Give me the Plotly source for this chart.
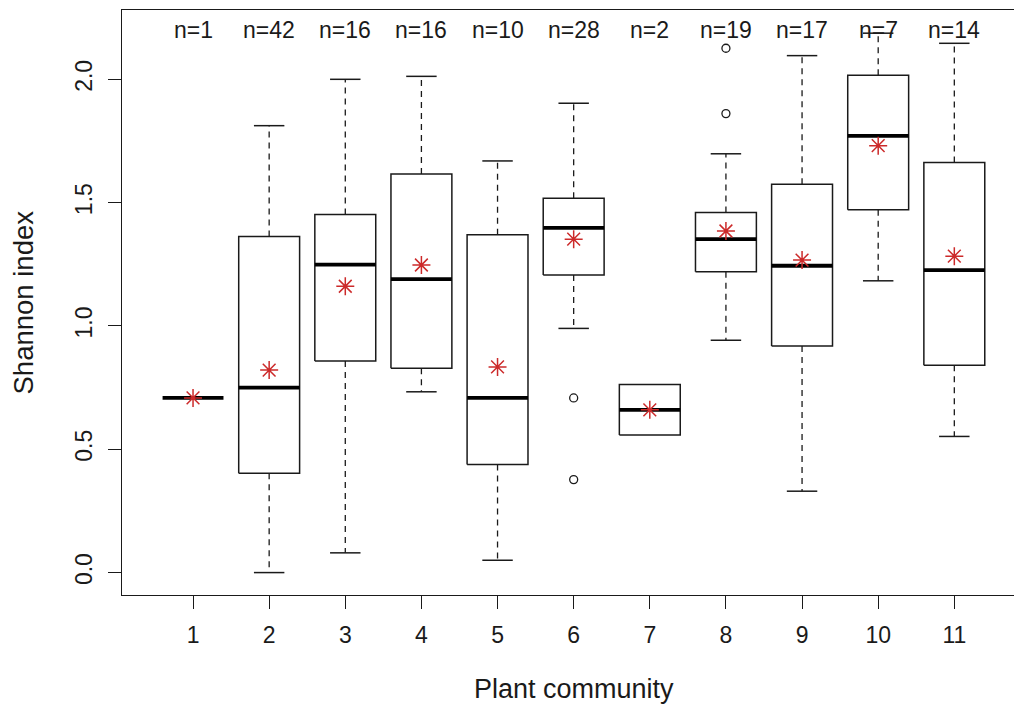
import plotly.graph_objects as go

groups = [1, 2, 3, 4, 5, 6, 7, 8, 9, 10, 11]
n_obs = [1, 42, 16, 16, 10, 28, 2, 19, 17, 7, 14]
q1 = [0.708, 0.403, 0.858, 0.828, 0.438, 1.207, 0.558, 1.220, 0.919, 1.471, 0.841]
median = [0.708, 0.750, 1.249, 1.190, 0.708, 1.398, 0.660, 1.352, 1.244, 1.771, 1.226]
q3 = [0.708, 1.363, 1.452, 1.616, 1.370, 1.518, 0.763, 1.460, 1.574, 2.016, 1.663]
lower = [None, 0.000, 0.080, 0.733, 0.050, 0.990, None, 0.942, 0.330, 1.183, 0.552]
upper = [None, 1.812, 2.000, 2.012, 1.669, 1.903, None, 1.698, 2.096, 2.187, 2.146]
means = [0.708, 0.821, 1.161, 1.247, 0.834, 1.352, 0.660, 1.385, 1.267, 1.731, 1.283]
outlier_x = [6, 6, 8, 8]
outlier_y = [0.708, 0.377, 1.861, 2.126]

y_ticks = [0.0, 0.5, 1.0, 1.5, 2.0]
y_ticktext = ["0.0", "0.5", "1.0", "1.5", "2.0"]

half_box = 0.4
half_cap = 0.2
FONT = "Liberation Sans, Arial, sans-serif"
INK = "#1a1a1a"

box_x, box_y = [], []
med_x, med_y = [], []
wh_x, wh_y = [], []
cap_x, cap_y = [], []
for g, a, m, b, lo, hi, n in zip(groups, q1, median, q3, lower, upper, n_obs):
    if n > 1:
        box_x += [g - half_box, g + half_box, g + half_box, g - half_box, g - half_box, None]
        box_y += [a, a, b, b, a, None]
    med_x += [g - half_box, g + half_box, None]
    med_y += [m, m, None]
    if lo is not None and hi is not None:
        wh_x += [g, g, None, g, g, None]
        wh_y += [b, hi, None, a, lo, None]
        cap_x += [g - half_cap, g + half_cap, None, g - half_cap, g + half_cap, None]
        cap_y += [hi, hi, None, lo, lo, None]

fig = go.Figure()
fig.add_trace(go.Scatter(x=wh_x, y=wh_y, mode="lines",
                         line=dict(color=INK, width=1.3, dash="6px,5px"),
                         hoverinfo="skip", showlegend=False))
fig.add_trace(go.Scatter(x=cap_x, y=cap_y, mode="lines",
                         line=dict(color=INK, width=1.5),
                         hoverinfo="skip", showlegend=False))
fig.add_trace(go.Scatter(x=box_x, y=box_y, mode="lines",
                         line=dict(color=INK, width=1.5),
                         hoverinfo="skip", showlegend=False))
fig.add_trace(go.Scatter(x=med_x, y=med_y, mode="lines",
                         line=dict(color="black", width=3.8),
                         hoverinfo="skip", showlegend=False))
fig.add_trace(go.Scatter(x=outlier_x, y=outlier_y, mode="markers",
                         marker=dict(symbol="circle-open", size=8,
                                     color=INK, line=dict(width=1.3)),
                         showlegend=False))
fig.add_trace(go.Scatter(x=groups, y=means, mode="markers",
                         marker=dict(symbol="asterisk-open", size=15,
                                     color="#cc2a2a", line=dict(width=1.5, color="#cc2a2a")),
                         showlegend=False))

annotations = []
for g, n in zip(groups, n_obs):
    annotations.append(dict(x=g, y=2.2, xref="x", yref="y", text=f"n={n}",
                            showarrow=False, font=dict(family=FONT, size=23, color=INK)))
annotations.append(dict(x=6, y=0, xref="x", yref="paper", text="Plant community",
                        showarrow=False, yanchor="middle", yshift=-94,
                        font=dict(family=FONT, size=27, color=INK)))
annotations.append(dict(x=0, y=0.5, xref="paper", yref="paper", text="Shannon index",
                        showarrow=False, xanchor="center", xshift=-99, textangle=-90,
                        font=dict(family=FONT, size=27.5, color=INK)))

fig.update_layout(
    width=1014, height=706,
    margin=dict(l=122, r=0, t=10, b=111),
    paper_bgcolor="white", plot_bgcolor="white",
    annotations=annotations,
    font=dict(family=FONT, size=23, color=INK),
)
fig.update_xaxes(range=[0.067, 11.784], tickmode="array", tickvals=groups,
                 ticktext=[str(g) for g in groups],
                 showgrid=False, zeroline=False, showline=True, linecolor=INK,
                 linewidth=1.3, mirror=True, ticks="outside", ticklen=13,
                 tickwidth=1.3, tickcolor=INK, ticklabelstandoff=6,
                 tickfont=dict(size=23, family=FONT, color=INK))
fig.update_yaxes(range=[-0.0909, 2.281], tickmode="array", tickvals=y_ticks,
                 ticktext=y_ticktext, tickangle=-90,
                 showgrid=False, zeroline=False, showline=True, linecolor=INK,
                 linewidth=1.3, ticks="outside", ticklen=13,
                 tickwidth=1.3, tickcolor=INK, ticklabelstandoff=7,
                 tickfont=dict(size=23, family=FONT, color=INK))

fig.write_html("out.html")
